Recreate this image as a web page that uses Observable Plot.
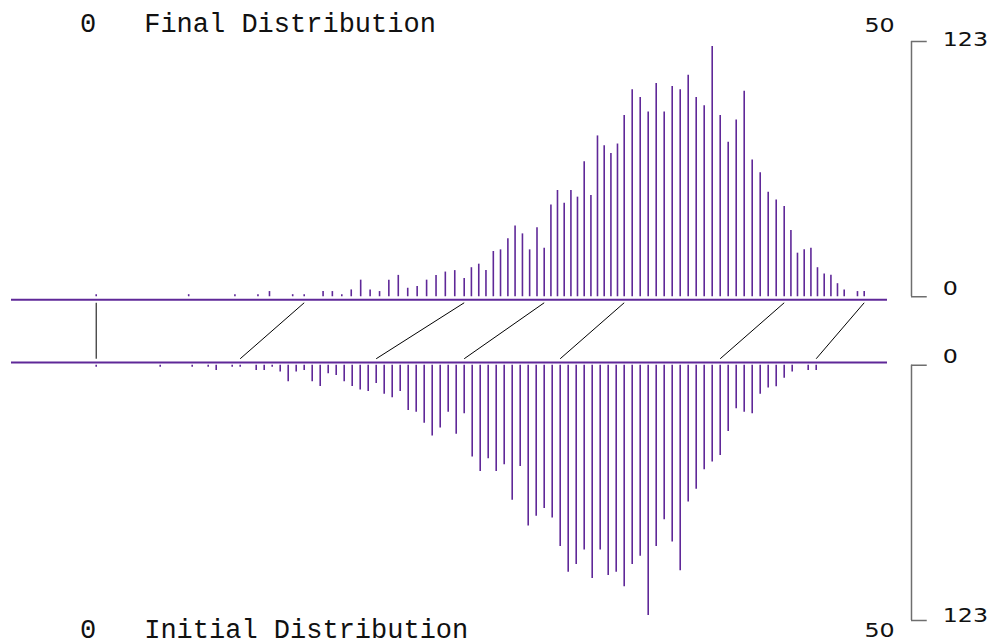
<!DOCTYPE html>
<html>
<head>
<meta charset="utf-8">
<script src="https://cdn.jsdelivr.net/npm/d3@7"></script>
<script src="https://cdn.jsdelivr.net/npm/@observablehq/plot@0.6"></script>
<style>
  html, body { margin: 0; padding: 0; background: #fff; }
  #chart { width: 996px; height: 644px; }
</style>
</head>
<body>
<div id="chart"></div>
<script>
// ---- data ----
const xDomain = [0, 50];
const xTickLabels = ["0", "50"];
const countScaleLabels = [0, 123];
const topTitle = "Final Distribution";
const bottomTitle = "Initial Distribution";

// positions of each spike on the initial (bottom) distribution
const initialValues = [
  0, 4, 6, 7, 7.5, 8.5, 9,
  10, 10.5, 11, 11.5, 12, 12.5, 13, 13.5, 14, 14.5, 15, 15.5, 16, 16.5, 17, 17.5, 18, 18.5, 19,
  19.5, 20, 20.5, 21, 21.5, 22, 22.5, 23, 23.5, 24, 24.5, 25, 25.5, 26, 26.5, 27, 27.5, 28, 28.5, 29,
  29.5, 30, 30.5, 31, 31.5, 32, 32.5, 33, 33.5, 34, 34.5, 35, 35.5, 36, 36.5, 37, 37.5, 38, 38.5, 39,
  39.5, 40, 40.5, 41, 41.5, 42, 42.5, 43, 43.5, 44.5, 45
];
// positions of the same spikes on the final (top) distribution
const finalValues = [
  0, 5.78, 8.67, 10.11, 10.83, 12.28, 13,
  14.18, 14.76, 15.35, 15.94, 16.53, 17.12, 17.71, 18.29, 18.88, 19.47, 20.06, 20.65, 21.24, 21.82, 22.41, 23, 23.45, 23.91, 24.36,
  24.82, 25.27, 25.73, 26.18, 26.64, 27.09, 27.55, 28, 28.42, 28.83, 29.25, 29.67, 30.08, 30.5, 30.92, 31.33, 31.75, 32.17, 32.58, 33,
  33.5, 34, 34.5, 35, 35.5, 36, 36.5, 37, 37.5, 38, 38.5, 39, 39.5, 40, 40.5, 41, 41.5, 42, 42.5, 43,
  43.42, 43.83, 44.25, 44.67, 45.08, 45.5, 45.92, 46.33, 46.75, 47.58, 48
];
// frequency of each spike (same in both distributions)
const counts = [
  1, 1, 1, 1, 2.5, 1, 1,
  2.5, 2.5, 1, 3.3, 8, 3.3, 2.5, 8, 10.3, 4.1, 4.9, 8, 10.3, 11.9, 12.6, 8.8, 14, 15.7, 12.6,
  21.8, 22.6, 28, 34.1, 30.3, 22.6, 33.3, 23.4, 44.2, 51.2, 45, 51.2, 48, 65.1, 48.8, 77.5, 72.8, 69, 73.6, 87.4,
  99.8, 96, 89, 102.8, 89, 101.3, 99.8, 106.7, 96, 92.1, 120.6, 87.4, 74.4, 85.2, 99, 65.9, 59.7, 50.4, 46.6, 43.5,
  31.9, 21, 22.6, 23.4, 14, 11, 10.4, 6.3, 3.3, 2.5, 2.5
];
// quantile links: initial value -> final value
const linkInitial = [0, 9, 17.5, 23, 29, 39, 45];
const linkFinal   = [0, 13, 23, 28, 33, 43, 48];

// ---- layout constants ----
const GAP = 33;                 // distance (count units) between the two zero lines
const PURPLE = "#5f2898";
const GRAY = "#6e6e6e";
const MONO = "Liberation Mono, DejaVu Sans Mono, monospace";
const SANS = "DejaVu Sans";
const idx = d3.range(counts.length);
const lk = d3.range(linkInitial.length);
const yMax = countScaleLabels[1];
const bracketX = xDomain[1] + 0.956, tickX2 = xDomain[1] + 1.94;

const chart = Plot.plot({
  width: 996,
  height: 644,
  marginLeft: 11,
  marginRight: 109,
  marginTop: 0,
  marginBottom: 0,
  x: {domain: xDomain, range: [95.7, 895.7], axis: null},
  y: {domain: [-(GAP + yMax), yMax], range: [620, 41], axis: null},
  style: {background: "white", overflow: "visible"},
  marks: [
    // baselines
    Plot.ruleY([-1.4, -GAP + 1.35], {stroke: PURPLE, strokeWidth: 2}),
    // final distribution spikes (up)
    Plot.ruleX(idx, {x: i => finalValues[i], y1: 0, y2: i => counts[i], stroke: PURPLE, strokeWidth: 1.6}),
    // initial distribution spikes (down)
    Plot.ruleX(idx, {x: i => initialValues[i], y1: -GAP, y2: i => -GAP - counts[i], stroke: PURPLE, strokeWidth: 1.6}),
    // quantile links
    Plot.link(lk, {x1: i => linkInitial[i], y1: -GAP + 3.13, x2: i => linkFinal[i], y2: -2.9, stroke: "black", strokeWidth: 1}),
    // count-scale brackets
    Plot.ruleX([bracketX], {y1: countScaleLabels[0], y2: countScaleLabels[1], stroke: GRAY, strokeWidth: 1.5}),
    Plot.ruleY(countScaleLabels, {x1: bracketX, x2: tickX2, stroke: GRAY, strokeWidth: 1.5}),
    Plot.ruleX([bracketX], {y1: -GAP - countScaleLabels[0], y2: -GAP - countScaleLabels[1], stroke: GRAY, strokeWidth: 1.5}),
    Plot.ruleY(countScaleLabels.map(v => -GAP - v), {x1: bracketX, x2: tickX2, stroke: GRAY, strokeWidth: 1.5}),
    // bracket labels
    Plot.text([countScaleLabels[1]], {x: xDomain[1], y: d => d, text: d => String(d), dx: 46.5, dy: 4, textAnchor: "start", lineAnchor: "bottom", fontFamily: SANS, fontSize: 19, fill: "#111"}),
    Plot.text([countScaleLabels[0]], {x: xDomain[1], y: d => d, text: d => String(d), dx: 46.5, dy: -1.3, textAnchor: "start", lineAnchor: "bottom", fontFamily: SANS, fontSize: 19, fill: "#111"}),
    Plot.text([countScaleLabels[0]], {x: xDomain[1], y: d => -GAP - d, text: d => String(d), dx: 46.5, dy: -2.2, textAnchor: "start", lineAnchor: "bottom", fontFamily: SANS, fontSize: 19, fill: "#111"}),
    Plot.text([countScaleLabels[1]], {x: xDomain[1], y: d => -GAP - d, text: d => String(d), dx: 46.5, dy: 1.8, textAnchor: "start", lineAnchor: "bottom", fontFamily: SANS, fontSize: 19, fill: "#111"}),
    // top labels
    Plot.text([xTickLabels[0]], {x: xDomain[0], y: yMax, text: d => d, dy: -10, textAnchor: "end", lineAnchor: "bottom", fontFamily: MONO, fontSize: 27, fill: "#111"}),
    Plot.text([topTitle], {x: 3, y: yMax, text: d => d, dy: -10, textAnchor: "start", lineAnchor: "bottom", fontFamily: MONO, fontSize: 27, fill: "#111"}),
    Plot.text([xTickLabels[1]], {x: xDomain[1], y: yMax, text: d => d, dx: -1.5, dy: -10, textAnchor: "end", lineAnchor: "bottom", fontFamily: SANS, fontSize: 19, fill: "#111"}),
    // bottom labels
    Plot.text([xTickLabels[0]], {x: xDomain[0], y: -(GAP + yMax), text: d => d, dy: 17, textAnchor: "end", lineAnchor: "bottom", fontFamily: MONO, fontSize: 27, fill: "#111"}),
    Plot.text([bottomTitle], {x: 3, y: -(GAP + yMax), text: d => d, dy: 17, textAnchor: "start", lineAnchor: "bottom", fontFamily: MONO, fontSize: 27, fill: "#111"}),
    Plot.text([xTickLabels[1]], {x: xDomain[1], y: -(GAP + yMax), text: d => d, dx: -1.5, dy: 16.7, textAnchor: "end", lineAnchor: "bottom", fontFamily: SANS, fontSize: 19, fill: "#111"})
  ]
});

// widen the sans-serif numerals horizontally, as in the reference
d3.select(chart).selectAll("g[font-family='DejaVu Sans'] text").each(function() {
  const t = this.getAttribute("transform");
  if (t && t.includes("translate")) {
    this.setAttribute("transform", t + " scale(1.25,1)");
  } else {
    const x = +this.getAttribute("x") || 0, y = +this.getAttribute("y") || 0;
    this.setAttribute("transform", `translate(${x},${y}) scale(1.25,1) translate(${-x},${-y})`);
  }
});

document.getElementById("chart").appendChild(chart);
</script>
</body>
</html>
